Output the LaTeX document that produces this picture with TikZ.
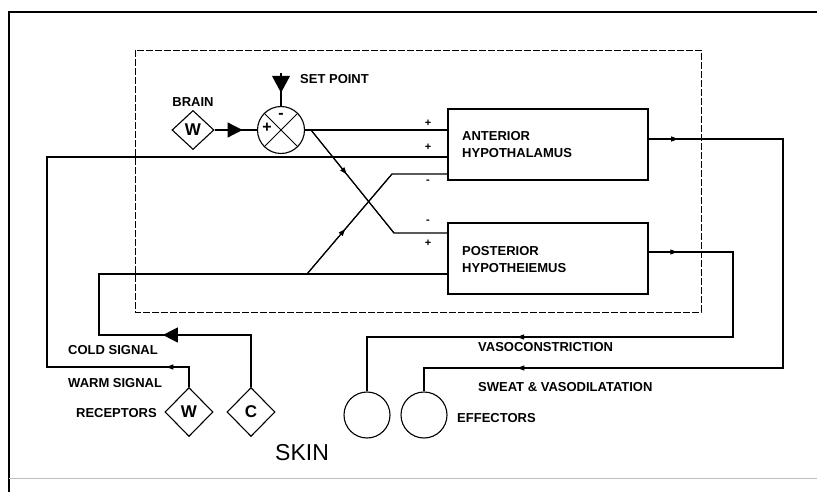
\documentclass[tikz,border=0pt]{standalone}
\usepackage{fontspec}
\setmainfont{Liberation Sans}
\usetikzlibrary{shapes.geometric,arrows.meta,decorations.markings}
\begin{document}
\begin{tikzpicture}[x=1pt,y=-1pt,
  wire/.style={line width=1.1pt},
  lbl/.style={font=\fontsize{13}{17}\selectfont\bfseries, inner sep=0pt},
  sgn/.style={font=\fontsize{11}{11}\selectfont\bfseries, inner sep=0pt},
  blk/.style={draw, line width=1.2pt, minimum width=200pt, minimum height=71pt, inner sep=0pt},
  dia/.style={draw, diamond, line width=1.1pt, inner sep=0pt, font=\fontsize{17}{17}\selectfont\bfseries},
  eff/.style={draw, circle, line width=1.1pt, minimum size=46pt, inner sep=0pt},
  midarr/.style 2 args={postaction={decorate},decoration={markings, mark=at position #1 with {\arrow{#2}}}},
  bigarr/.style={midarr={#1}{Triangle[length=15pt,width=15pt]}},
  setarr/.style={midarr={#1}{Triangle[length=17pt,width=18pt]}},
  smallarr/.style={midarr={#1}{Triangle[length=7pt,width=5pt]}},
]
\useasboundingbox (0,0) rectangle (817,492);
% outer frame
\draw[line width=1.2pt] (9,492) -- (9,12) -- (817,12);
\draw[line width=0.6pt, black!25] (9,478) -- (817,478);
% dashed brain box
\draw[line width=0.8pt, dash pattern=on 7pt off 2pt] (135,50) rectangle (701,312);

% nodes
\node[blk] (ant) at (548,144.5) {};
\node[blk] (post) at (548,258.5) {};
\node[lbl, anchor=west, align=left] at (462,144.5) {ANTERIOR\\HYPOTHALAMUS};
\node[lbl, anchor=west, align=left] at (462,259.5) {POSTERIOR\\HYPOTHEIEMUS};

\node[draw, circle, line width=1.1pt, minimum size=47pt, inner sep=0pt] (sum) at (281,130) {};
\draw[line width=1pt] (sum.north west) -- (sum.south east);
\draw[line width=1pt] (sum.north east) -- (sum.south west);
\node[font=\fontsize{16}{16}\selectfont\bfseries, inner sep=0pt] (splus) at (267,128) {+};
\node[font=\fontsize{16}{16}\selectfont\bfseries, inner sep=0pt] (sminus) at (281,116) {-};

\node[dia, minimum width=42pt, minimum height=39pt] (bw) at (193,130) {W};
\node[lbl] (brain) at (193,102) {BRAIN};
\node[lbl, anchor=west] (setp) at (300,79) {SET POINT};
\coordinate (spt) at (281,73);

\node[dia, minimum width=48pt, minimum height=49pt] (rw) at (189,412) {W};
\node[dia, minimum width=48pt, minimum height=49pt] (rc) at (251,412) {C};
\node[lbl, anchor=east] (rec) at (157,413) {RECEPTORS};
\node[font=\fontsize{23}{23}\selectfont, inner sep=0pt, anchor=west] (skin) at (275,453) {SKIN};

\node[eff] (e1) at (367,415) {};
\node[eff] (e2) at (424,415) {};
\node[lbl, anchor=west] (effl) at (457,418) {EFFECTORS};

\node[lbl, anchor=west] (cold) at (68,350) {COLD SIGNAL};
\node[lbl, anchor=west] (warm) at (68,383) {WARM SIGNAL};
\node[lbl, anchor=west] (vaso) at (478,347) {VASOCONSTRICTION};
\node[lbl, anchor=west] (sweat) at (478,387) {SWEAT \& VASODILATATION};

% signs at box inputs
\node[sgn] at (428,123) {+};
\node[sgn] at (428,147) {+};
\node[sgn] at (428,182) {-};
\node[sgn] at (428,222) {-};
\node[sgn] at (428,243) {+};

% brain W to summing point
\draw[wire, bigarr=0.66] (bw.east) -- (sum.west);
% set point
\draw[wire, setarr=0.6] (spt) -- (sum.north);
% summing point to anterior
\draw[wire] (sum.east) -- (sum.east -| ant.west);
% branch diagonal to posterior
\coordinate (br1) at (311,130);
\coordinate (bd1) at (394,233);
\draw[wire] (br1) -- (bd1) -- (bd1 -| post.west);
\draw[wire, smallarr=0.43] (br1) -- (bd1);

% warm signal
\coordinate (w1) at (189,367);
\coordinate (w2) at (47,367);
\coordinate (w3) at (47,157);
\draw[wire] (rw.north) -- (w1) -- (w2) -- (w3) -- (w3 -| ant.west);
\draw[wire, smallarr=0.16] (w1) -- (w2);

% cold signal
\coordinate (c1) at (251,335);
\coordinate (c2) at (99,335);
\coordinate (c3) at (99,274);
\draw[wire] (rc.north) -- (c1) -- (c2) -- (c3) -- (c3 -| post.west);
\draw[wire, bigarr=0.58] (c1) -- (c2);
% diagonal from cold line to anterior
\coordinate (bd2s) at (307,274);
\coordinate (bd2) at (392,174);
\draw[wire] (bd2s) -- (bd2) -- (bd2 -| ant.west);
\draw[wire, smallarr=0.45] (bd2s) -- (bd2);

% anterior output: sweat & vasodilatation
\coordinate (a1) at (783,139);
\coordinate (a2) at (783,368);
\coordinate (a3) at (424,368);
\draw[wire] (ant.east |- a1) -- (a1) -- (a2) -- (a3) -- (e2.north);
\draw[wire, smallarr=0.22] (ant.east |- a1) -- (a1);
\draw[wire, smallarr=0.74] (a2) -- (a3);

% posterior output: vasoconstriction
\coordinate (p1) at (733,252);
\coordinate (p2) at (733,337);
\coordinate (p3) at (367,337);
\draw[wire] (post.east |- p1) -- (p1) -- (p2) -- (p3) -- (e1.north);
\draw[wire, smallarr=0.34] (post.east |- p1) -- (p1);
\draw[wire, smallarr=0.59] (p2) -- (p3);
\end{tikzpicture}
\end{document}
